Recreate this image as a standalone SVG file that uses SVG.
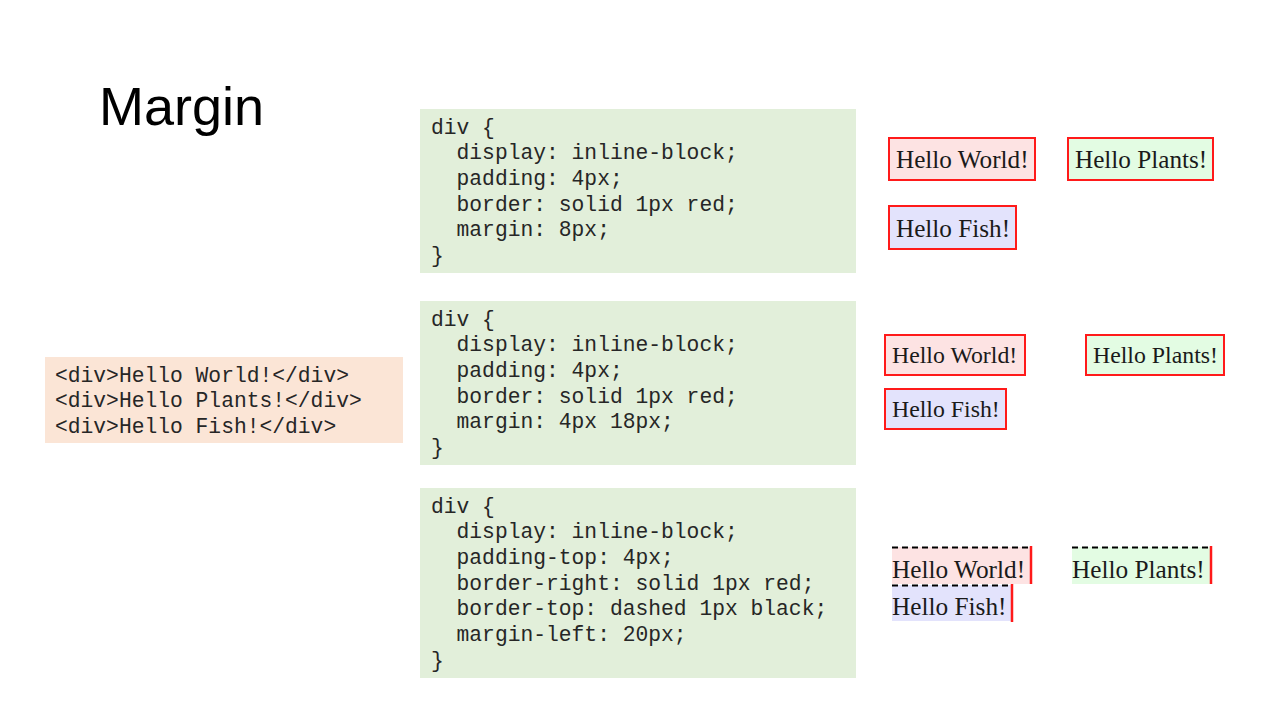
<svg xmlns="http://www.w3.org/2000/svg" width="1280" height="720" viewBox="0 0 1280 720">
<style>
.code{font-family:"Liberation Mono",monospace;font-size:21.3px;fill:#262626;white-space:pre}
.demo{font-family:"Liberation Serif",serif;fill:#1a1a1a}
.css{fill:#e2efda}
.bx{stroke:#ff1a1a;stroke-width:2}
.pink{fill:#fde3e3}.green{fill:#e3fce3}.blue{fill:#e3e3fc}
.dash{stroke:#000;stroke-width:2;stroke-dasharray:6 4}
.red{stroke:#ff1a1a;stroke-width:2.5}
</style>
<rect width="1280" height="720" fill="#fff"/>
<text x="99" y="125" font-family="Liberation Sans, sans-serif" font-size="54" fill="#000">Margin</text>
<g id="html">
<rect x="45" y="357" width="358" height="86" fill="#fbe5d6"/>
<text class="code" x="55" y="382">&lt;div&gt;Hello World!&lt;/div&gt;</text>
<text class="code" x="55" y="407">&lt;div&gt;Hello Plants!&lt;/div&gt;</text>
<text class="code" x="55" y="433">&lt;div&gt;Hello Fish!&lt;/div&gt;</text>
</g>
<g id="css1">
<rect class="css" x="420" y="109" width="436" height="164"/>
<text class="code" x="431" y="134">div {</text>
<text class="code" x="431" y="159">  display: inline-block;</text>
<text class="code" x="431" y="185">  padding: 4px;</text>
<text class="code" x="431" y="211">  border: solid 1px red;</text>
<text class="code" x="431" y="236">  margin: 8px;</text>
<text class="code" x="431" y="262">}</text>
</g>
<g id="css2">
<rect class="css" x="420" y="301" width="436" height="164"/>
<text class="code" x="431" y="326">div {</text>
<text class="code" x="431" y="351">  display: inline-block;</text>
<text class="code" x="431" y="377">  padding: 4px;</text>
<text class="code" x="431" y="403">  border: solid 1px red;</text>
<text class="code" x="431" y="428">  margin: 4px 18px;</text>
<text class="code" x="431" y="454">}</text>
</g>
<g id="css3">
<rect class="css" x="420" y="488" width="436" height="190"/>
<text class="code" x="431" y="513">div {</text>
<text class="code" x="431" y="538">  display: inline-block;</text>
<text class="code" x="431" y="564">  padding-top: 4px;</text>
<text class="code" x="431" y="590">  border-right: solid 1px red;</text>
<text class="code" x="431" y="615">  border-top: dashed 1px black;</text>
<text class="code" x="431" y="641">  margin-left: 20px;</text>
<text class="code" x="431" y="667">}</text>
</g>
<g id="demo1" class="demo" font-size="25.2">
<rect class="pink bx" x="889" y="138" width="146" height="42"/>
<text x="896" y="168">Hello World!</text>
<rect class="green bx" x="1068" y="138" width="145" height="42"/>
<text x="1075" y="168">Hello Plants!</text>
<rect class="blue bx" x="889" y="206" width="127" height="43"/>
<text x="896" y="237">Hello Fish!</text>
</g>
<g id="demo2" class="demo" font-size="23.8">
<rect class="pink bx" x="885" y="335" width="140" height="40"/>
<text x="892" y="363">Hello World!</text>
<rect class="green bx" x="1086" y="335" width="138" height="40"/>
<text x="1093" y="363">Hello Plants!</text>
<rect class="blue bx" x="885" y="389" width="121" height="40"/>
<text x="892" y="417">Hello Fish!</text>
</g>
<g id="demo3" class="demo" font-size="25.3">
<rect class="pink" x="892" y="547" width="139" height="37"/>
<line class="dash" x1="892" y1="547.5" x2="1031" y2="547.5"/>
<line class="red" x1="1031" y1="546" x2="1031" y2="584"/>
<text x="892" y="578">Hello World!</text>
<rect class="green" x="1072" y="547" width="139" height="37"/>
<line class="dash" x1="1072" y1="547.5" x2="1211" y2="547.5"/>
<line class="red" x1="1211" y1="546" x2="1211" y2="584"/>
<text x="1072" y="578">Hello Plants!</text>
<rect class="blue" x="892" y="585" width="120" height="36"/>
<line class="dash" x1="892" y1="585.5" x2="1012" y2="585.5"/>
<line class="red" x1="1012" y1="584" x2="1012" y2="622"/>
<text x="892" y="615">Hello Fish!</text>
</g>
</svg>
